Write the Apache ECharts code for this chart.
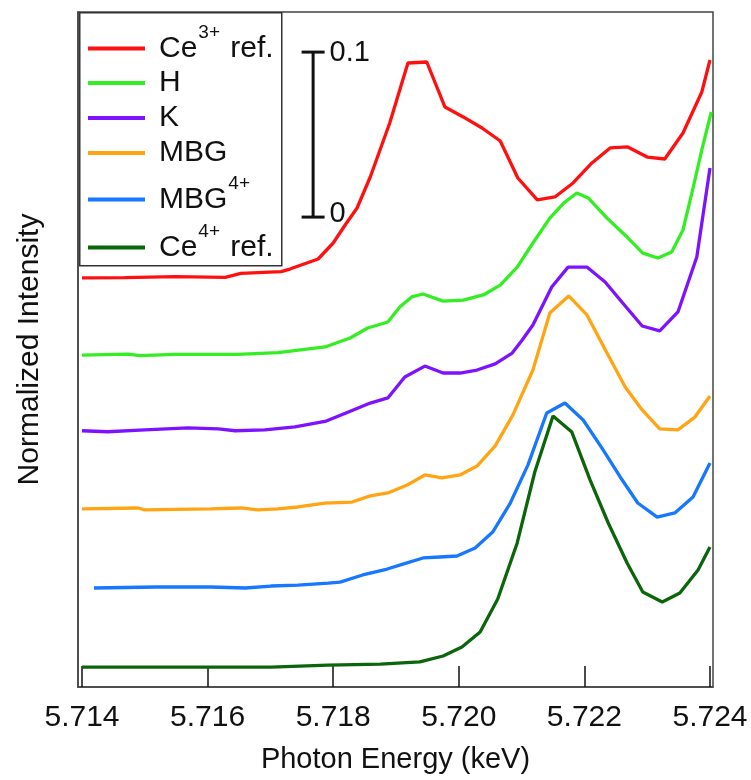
<!DOCTYPE html>
<html>
<head>
<meta charset="utf-8">
<script src="https://cdn.jsdelivr.net/npm/echarts@6/dist/echarts.min.js"></script>
<style>
  html, body { margin: 0; padding: 0; background: #fff; }
  #chart { width: 751px; height: 780px; }
</style>
</head>
<body>
<div id="chart"></div>
<script>
// ---------- data ----------
const seriesNames = ['Ce3+ ref.', 'H', 'K', 'MBG', 'MBG4+', 'Ce4+ ref.'];
const seriesColors = ['#ff1010', '#33ee22', '#7d12ff', '#ffa514', '#1777ff', '#0b650b'];

const ce3Energy = [5.71400, 5.71468, 5.71548, 5.71628, 5.71653, 5.71717, 5.71731, 5.71776, 5.71800, 5.71819, 5.71838, 5.71859, 5.71890, 5.71919, 5.71949, 5.71978, 5.72007, 5.72037, 5.72066, 5.72094, 5.72125, 5.72153, 5.72182, 5.72212, 5.72241, 5.72269, 5.72300, 5.72328, 5.72357, 5.72387, 5.72400];
const ce3Intensity = [0.2479, 0.2481, 0.2487, 0.2483, 0.2507, 0.2517, 0.2533, 0.2594, 0.2691, 0.2800, 0.2903, 0.3091, 0.3418, 0.3782, 0.3788, 0.3515, 0.3455, 0.3388, 0.3309, 0.3085, 0.2952, 0.2970, 0.3055, 0.3176, 0.3267, 0.3273, 0.3212, 0.3200, 0.3358, 0.3606, 0.3800];

const hEnergy = [5.71400, 5.71473, 5.71492, 5.71548, 5.71648, 5.71712, 5.71787, 5.71827, 5.71855, 5.71887, 5.71906, 5.71925, 5.71943, 5.71975, 5.72007, 5.72039, 5.72066, 5.72093, 5.72118, 5.72145, 5.72167, 5.72188, 5.72206, 5.72236, 5.72268, 5.72293, 5.72317, 5.72339, 5.72357, 5.72373, 5.72387, 5.72402];
const hIntensity = [0.2012, 0.2018, 0.2008, 0.2016, 0.2016, 0.2026, 0.2061, 0.2115, 0.2176, 0.2212, 0.2303, 0.2364, 0.2382, 0.2339, 0.2345, 0.2376, 0.2436, 0.2545, 0.2691, 0.2842, 0.2933, 0.2994, 0.2964, 0.2842, 0.2727, 0.2630, 0.2600, 0.2636, 0.2770, 0.3024, 0.3255, 0.3485];

const kEnergy = [5.71400, 5.71441, 5.71500, 5.71569, 5.71617, 5.71644, 5.71691, 5.71739, 5.71789, 5.71832, 5.71859, 5.71887, 5.71914, 5.71946, 5.71975, 5.72002, 5.72029, 5.72058, 5.72085, 5.72101, 5.72118, 5.72148, 5.72174, 5.72204, 5.72233, 5.72261, 5.72292, 5.72320, 5.72349, 5.72379, 5.72400];
const kIntensity = [0.1553, 0.1547, 0.1558, 0.1570, 0.1564, 0.1553, 0.1558, 0.1576, 0.1612, 0.1679, 0.1721, 0.1752, 0.1879, 0.1945, 0.1903, 0.1903, 0.1921, 0.1958, 0.2024, 0.2103, 0.2194, 0.2424, 0.2545, 0.2545, 0.2455, 0.2327, 0.2188, 0.2158, 0.2273, 0.2606, 0.3145];

const mbgEnergy = [5.71400, 5.71489, 5.71500, 5.71605, 5.71653, 5.71680, 5.71712, 5.71744, 5.71787, 5.71830, 5.71859, 5.71887, 5.71918, 5.71946, 5.71973, 5.72002, 5.72029, 5.72058, 5.72086, 5.72118, 5.72145, 5.72175, 5.72204, 5.72236, 5.72265, 5.72292, 5.72320, 5.72349, 5.72376, 5.72400];
const mbgIntensity = [0.1079, 0.1085, 0.1073, 0.1079, 0.1085, 0.1073, 0.1079, 0.1091, 0.1115, 0.1121, 0.1158, 0.1176, 0.1224, 0.1285, 0.1267, 0.1285, 0.1339, 0.1461, 0.1648, 0.1921, 0.2267, 0.2370, 0.2255, 0.2024, 0.1818, 0.1679, 0.1564, 0.1558, 0.1636, 0.1764];

const mbg4Energy = [5.71419, 5.71518, 5.71605, 5.71660, 5.71701, 5.71744, 5.71792, 5.71811, 5.71847, 5.71886, 5.71911, 5.71943, 5.71970, 5.71997, 5.72026, 5.72054, 5.72082, 5.72110, 5.72140, 5.72169, 5.72198, 5.72228, 5.72257, 5.72285, 5.72316, 5.72344, 5.72373, 5.72400];
const mbg4Intensity = [0.0600, 0.0606, 0.0606, 0.0600, 0.0612, 0.0618, 0.0630, 0.0636, 0.0679, 0.0715, 0.0745, 0.0782, 0.0788, 0.0794, 0.0842, 0.0939, 0.1115, 0.1345, 0.1661, 0.1721, 0.1618, 0.1448, 0.1273, 0.1115, 0.1030, 0.1055, 0.1152, 0.1358];

const ce4Energy = [5.71400, 5.71500, 5.71605, 5.71701, 5.71792, 5.71875, 5.71938, 5.71975, 5.72005, 5.72034, 5.72062, 5.72093, 5.72121, 5.72150, 5.72180, 5.72209, 5.72238, 5.72268, 5.72293, 5.72324, 5.72352, 5.72381, 5.72400];
const ce4Intensity = [0.0121, 0.0121, 0.0121, 0.0121, 0.0133, 0.0139, 0.0152, 0.0188, 0.0242, 0.0333, 0.0533, 0.0873, 0.1303, 0.1642, 0.1545, 0.1255, 0.0994, 0.0752, 0.0576, 0.0515, 0.0570, 0.0709, 0.0848];

const xTickValues = [5.714, 5.716, 5.718, 5.720, 5.722, 5.724];
const xRange = [5.713936, 5.724048];
const yRange = [0, 0.4091];

// scale bar: 0.1 intensity units
const scaleBarEnergy = 5.71768;
const scaleBarIntensity = [0.2848, 0.3848];
const scaleBarLabels = ['0', '0.1'];

// ---------- chart ----------
const FONT = 'Liberation Sans, Arial, sans-serif';
const energies = [ce3Energy, hEnergy, kEnergy, mbgEnergy, mbg4Energy, ce4Energy];
const intens = [ce3Intensity, hIntensity, kIntensity, mbgIntensity, mbg4Intensity, ce4Intensity];

const series = seriesNames.map((name, i) => ({
  name: name,
  type: 'line',
  data: energies[i].map((e, j) => [e, intens[i][j]]),
  showSymbol: false,
  symbol: 'none',
  smooth: false,
  lineStyle: { color: seriesColors[i], width: 3.3 },
  itemStyle: { color: seriesColors[i] },
  silent: true,
  z: 3
}));

series.push({
  name: 'scalebar',
  type: 'line',
  data: scaleBarIntensity.map((v, k) => ({
    value: [scaleBarEnergy, v],
    label: { formatter: scaleBarLabels[k], offset: k === 0 ? [0, -3] : [0, 1] }
  })),
  symbol: 'rect',
  symbolSize: [23, 3],
  showSymbol: true,
  lineStyle: { color: '#111', width: 3 },
  itemStyle: { color: '#111' },
  label: { show: true, position: 'right', distance: 5, color: '#111', fontSize: 29, fontFamily: FONT },
  silent: true,
  z: 4
});

// legend labels with superscripts
const legendRich = {
  t: { fontSize: 30, fontFamily: FONT, color: '#111', lineHeight: 30 },
  t0: { fontSize: 30, fontFamily: FONT, color: '#111', lineHeight: 30, padding: [0, 0, 0, 9] },
  sup: { fontSize: 19, fontFamily: FONT, color: '#111', lineHeight: 19, padding: [0, 2, 32, 1] }
};
const legendFormats = {
  'Ce3+ ref.': '{t0|Ce}{sup|3+}{t| ref.}',
  'H': '{t0|H}',
  'K': '{t0|K}',
  'MBG': '{t0|MBG}',
  'MBG4+': '{t0|MBG}{sup|4+}',
  'Ce4+ ref.': '{t0|Ce}{sup|4+}{t| ref.}'
};
const legendTops = [23, 68, 103, 138, 174, 222];

const legends = seriesNames.map((name, i) => ({
  data: [name],
  left: 88,
  top: legendTops[i],
  padding: 0,
  orient: 'vertical',
  icon: 'rect',
  itemWidth: 57,
  itemHeight: 4,
  selectedMode: false,
  formatter: n => legendFormats[n],
  textStyle: { rich: legendRich }
}));

const chart = echarts.init(document.getElementById('chart'), null, { renderer: 'canvas' });
chart.setOption({
  animation: false,
  backgroundColor: '#fff',
  grid: {
    left: 78, right: 38, top: 12, bottom: 93,
    show: true, borderColor: '#444', borderWidth: 1.5, backgroundColor: 'transparent'
  },
  legend: legends,
  graphic: [{
    type: 'rect',
    left: 79, top: 12,
    shape: { width: 202, height: 253 },
    style: { fill: 'transparent', stroke: '#333', lineWidth: 1.5 },
    z: 5, silent: true
  }],
  xAxis: {
    type: 'value',
    min: xRange[0], max: xRange[1],
    name: 'Photon Energy (keV)',
    nameLocation: 'middle',
    nameGap: 58,
    nameTextStyle: { fontSize: 29, fontFamily: FONT, color: '#111' },
    axisLine: { show: true, lineStyle: { color: '#444', width: 1.5 } },
    axisTick: { show: true, inside: true, length: 21, customValues: xTickValues, lineStyle: { color: '#111', width: 1.5 } },
    axisLabel: {
      show: true, customValues: xTickValues, margin: 16,
      fontSize: 30, fontFamily: FONT, color: '#111',
      formatter: v => v.toFixed(3)
    },
    splitLine: { show: false }
  },
  yAxis: {
    type: 'value',
    min: yRange[0], max: yRange[1],
    name: 'Normalized Intensity',
    nameLocation: 'middle',
    nameGap: 33,
    nameTextStyle: { fontSize: 30, fontFamily: FONT, color: '#111' },
    axisLine: { show: true, lineStyle: { color: '#444', width: 1.5 } },
    axisTick: { show: false },
    axisLabel: { show: false },
    splitLine: { show: false }
  },
  series: series
});
</script>
</body>
</html>
